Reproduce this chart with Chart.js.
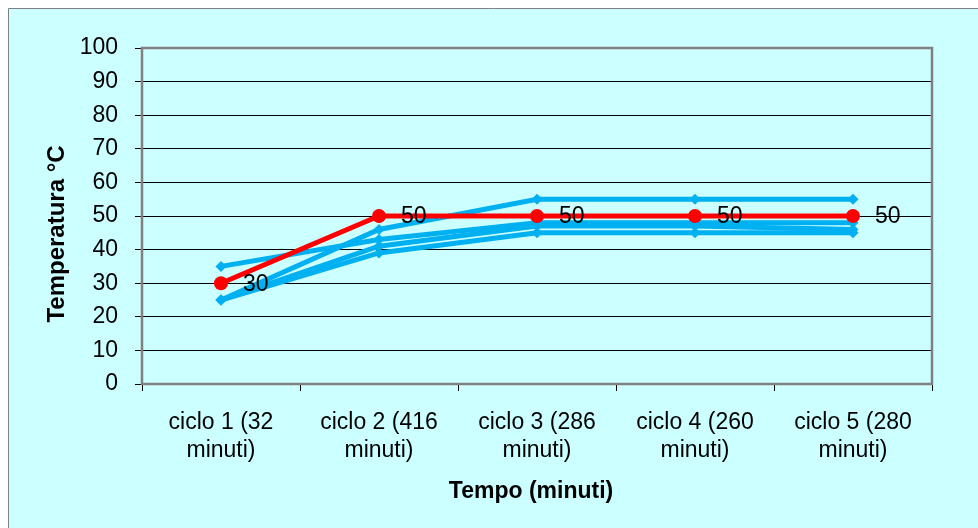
<!DOCTYPE html>
<html>
<head>
<meta charset="utf-8">
<script src="https://cdn.jsdelivr.net/npm/chart.js@4"></script>
<style>
  html, body { margin: 0; padding: 0; background: #fff; }
  canvas { display: block; }
</style>
</head>
<body>
<canvas id="tempChart" width="978" height="528"></canvas>
<script>
// categories (two-line labels, as in the original)
const cycles = [
  ['ciclo 1 (32', 'minuti)'],
  ['ciclo 2 (416', 'minuti)'],
  ['ciclo 3 (286', 'minuti)'],
  ['ciclo 4 (260', 'minuti)'],
  ['ciclo 5 (280', 'minuti)']
];

// red series (with value labels)
const setpoint = [30, 50, 50, 50, 50];

// blue series
const runA = [35, 43, 48, 48, 48];
const runB = [25, 46, 55, 55, 55];
const runC = [25, 39, 45, 45, 45];
const runD = [25, 41, 47, 47, 46];

const yTitle = 'Temperatura °C';
const xTitle = 'Tempo (minuti)';

const FONT = "'Liberation Sans', Arial, sans-serif";
const BLUE = '#00B0F0';
const RED = '#FF0000';

// chart frame: white page, cyan chart area with a thin grey border
const framePlugin = {
  id: 'frame',
  beforeDraw(chart) {
    const ctx = chart.ctx;
    ctx.save();
    ctx.fillStyle = '#ffffff';
    ctx.fillRect(0, 0, chart.width, chart.height);
    ctx.fillStyle = '#CCFFFF';
    ctx.fillRect(8, 8, chart.width - 8, chart.height - 8);
    ctx.strokeStyle = '#808080';
    ctx.lineWidth = 1;
    ctx.beginPath();
    ctx.moveTo(8.5, chart.height);
    ctx.lineTo(8.5, 8.5);
    ctx.lineTo(chart.width, 8.5);
    ctx.stroke();
    ctx.restore();
  },
  // grey border around the plot area, under the lines
  beforeDatasetsDraw(chart) {
    const { ctx, chartArea: a } = chart;
    ctx.save();
    ctx.strokeStyle = '#808080';
    ctx.lineWidth = 2.5;
    ctx.strokeRect(a.left, a.top, a.right - a.left, a.bottom - a.top);
    ctx.restore();
  }
};

// "30" / "50" labels next to the red points
const valueLabels = {
  id: 'valueLabels',
  afterDatasetsDraw(chart) {
    const ctx = chart.ctx;
    const meta = chart.getDatasetMeta(0);
    ctx.save();
    ctx.font = '23px ' + FONT;
    ctx.fillStyle = '#000';
    ctx.textAlign = 'left';
    ctx.textBaseline = 'middle';
    meta.data.forEach((pt, i) => {
      ctx.fillText(String(setpoint[i]), pt.x + 22, pt.y + 1);
    });
    ctx.restore();
  }
};

// axis titles placed where the original has them
const axisTitles = {
  id: 'axisTitles',
  afterDraw(chart) {
    const ctx = chart.ctx;
    ctx.save();
    ctx.fillStyle = '#000';
    ctx.textAlign = 'center';
    ctx.textBaseline = 'middle';
    ctx.font = 'bold 24px ' + FONT;
    ctx.translate(57, 234);
    ctx.rotate(-Math.PI / 2);
    ctx.fillText(yTitle, 0, 0);
    ctx.restore();

    ctx.save();
    ctx.fillStyle = '#000';
    ctx.textAlign = 'center';
    ctx.textBaseline = 'middle';
    ctx.font = 'bold 23px ' + FONT;
    ctx.fillText(xTitle, 531, 492);
    ctx.restore();
  }
};

function blueLine(data) {
  return {
    data: data,
    borderColor: BLUE,
    backgroundColor: BLUE,
    borderWidth: 5,
    pointStyle: 'rectRot',
    pointRadius: 5.5,
    pointBorderWidth: 0,
    tension: 0
  };
}

new Chart(document.getElementById('tempChart'), {
  type: 'line',
  data: {
    labels: cycles,
    datasets: [
      {
        data: setpoint,
        borderColor: RED,
        backgroundColor: RED,
        borderWidth: 5,
        pointStyle: 'circle',
        pointRadius: 7,
        pointBorderWidth: 0,
        tension: 0
      },
      blueLine(runA),
      blueLine(runB),
      blueLine(runC),
      blueLine(runD)
    ]
  },
  options: {
    responsive: false,
    animation: false,
    layout: { padding: { left: 0, top: 48, right: 46, bottom: 0 } },
    plugins: {
      legend: { display: false },
      tooltip: { enabled: false }
    },
    scales: {
      x: {
        offset: true,
        afterFit: (s) => { s.height = 144; },
        grid: {
          offset: true,
          drawOnChartArea: false,
          drawTicks: true,
          tickLength: 7,
          color: '#000'
        },
        border: { display: false },
        ticks: {
          color: '#000',
          padding: 17,
          maxRotation: 0,
          autoSkip: false,
          font: { family: FONT, size: 23, lineHeight: 1.25 }
        }
      },
      y: {
        min: 0,
        max: 100,
        afterFit: (s) => { s.width = 142; },
        grid: {
          color: '#000',
          lineWidth: 1,
          tickLength: 7
        },
        border: { display: false },
        ticks: {
          stepSize: 10,
          color: '#000',
          padding: 17,
          font: { family: FONT, size: 23 }
        }
      }
    }
  },
  plugins: [framePlugin, valueLabels, axisTitles]
});
</script>
</body>
</html>
